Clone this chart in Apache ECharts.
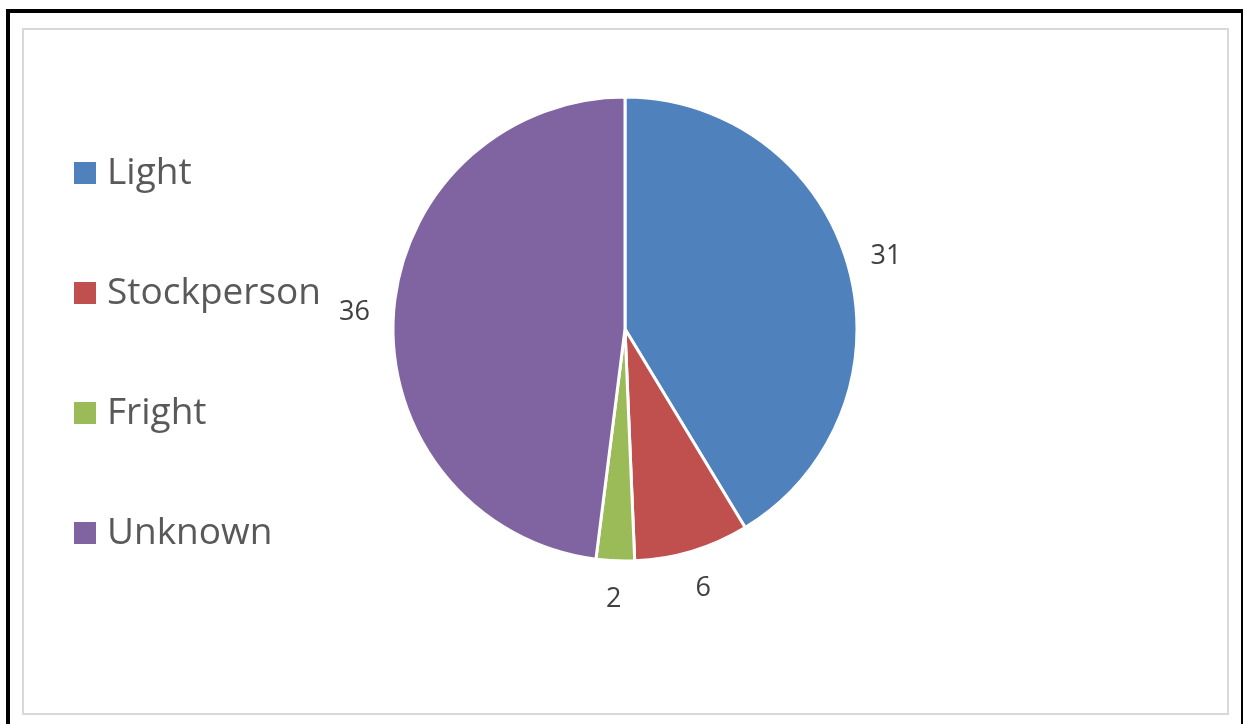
<!DOCTYPE html>
<html>
<head>
<meta charset="utf-8">
<script src="https://cdn.jsdelivr.net/npm/echarts@6/dist/echarts.min.js"></script>
<style>
  html, body { margin: 0; padding: 0; background: #fff; }
  #chart { width: 1243px; height: 724px; }
</style>
</head>
<body>
<div id="chart"></div>
<script>
// Causes and their counts
const categories = ['Light', 'Stockperson', 'Fright', 'Unknown'];
const counts = [31, 6, 2, 36];
const palette = ['#4F81BD', '#C0504D', '#9BBB59', '#8064A2'];

const sliceData = categories.map((name, i) => ({ name, value: counts[i] }));

const chart = echarts.init(document.getElementById('chart'), null, { renderer: 'canvas' });

const CENTER = [625, 329];
const RADIUS = 232;

chart.setOption({
  animation: false,
  color: palette,
  graphic: [
    // outer frame
    { type: 'rect', silent: true, z: 0,
      shape: { x: 8, y: 11, width: 1235, height: 730 },
      style: { fill: null, stroke: '#000', lineWidth: 4 } },
    // chart area frame
    { type: 'rect', silent: true, z: 0,
      shape: { x: 23, y: 29, width: 1205, height: 685 },
      style: { fill: null, stroke: '#d9d9d9', lineWidth: 2 } }
  ],
  legend: {
    orient: 'vertical',
    left: 67,
    top: 148,
    icon: 'rect',
    itemWidth: 24,
    itemHeight: 24,
    itemGap: 80,
    data: categories,
    selectedMode: false,
    textStyle: {
      fontFamily: 'Open Sans',
      fontSize: 37,
      lineHeight: 40,
      color: '#595959',
      padding: [0, 0, 0, 5]
    }
  },
  series: [
    {
      type: 'pie',
      center: CENTER,
      radius: RADIUS,
      startAngle: 90,
      clockwise: true,
      label: { show: false },
      labelLine: { show: false },
      emphasis: { disabled: true },
      itemStyle: { borderColor: '#fff', borderWidth: 3 },
      data: sliceData
    },
    {
      // invisible ring that carries the value labels just outside the pie
      type: 'pie',
      silent: true,
      center: CENTER,
      radius: [RADIUS, RADIUS + 72],
      startAngle: 90,
      clockwise: true,
      itemStyle: { color: 'rgba(0,0,0,0)' },
      label: {
        show: true,
        position: 'inside',
        formatter: '{c}',
        fontFamily: 'Open Sans',
        fontSize: 27,
        color: '#404040'
      },
      labelLine: { show: false },
      emphasis: { disabled: true },
      data: sliceData
    }
  ]
});
</script>
</body>
</html>
